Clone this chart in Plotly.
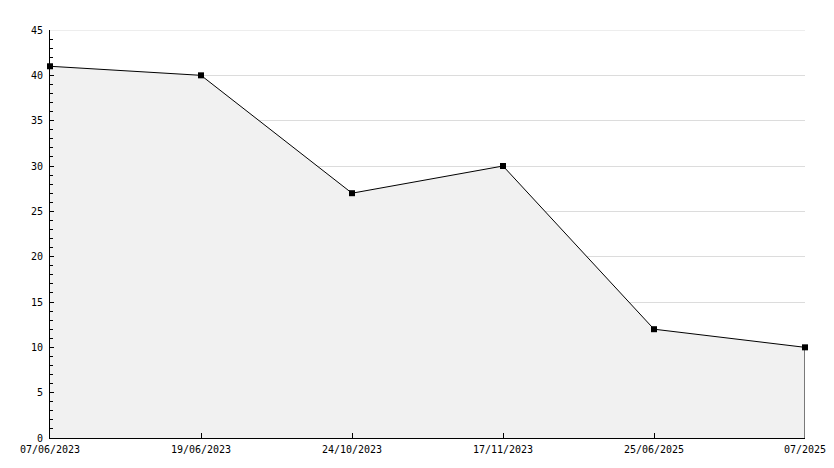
import plotly.graph_objects as go

categories = ["07/06/2023", "19/06/2023", "24/10/2023", "17/11/2023", "25/06/2025", "07/2025"]
values = [41, 40, 27, 30, 12, 10]
y_ticks = [0, 5, 10, 15, 20, 25, 30, 35, 40, 45]

FONT = dict(family="DejaVu Sans Mono", size=10, color="#000000")

fig = go.Figure()
fig.add_trace(go.Scatter(
    x=categories, y=values,
    mode="lines",
    fill="tozeroy",
    fillcolor="#f1f1f1",
    line=dict(color="#000000", width=1),
    cliponaxis=False,
    showlegend=False,
    hoverinfo="skip",
))
# right closing edge of the filled area
fig.add_trace(go.Scatter(
    x=[categories[-1], categories[-1]], y=[0, values[-1]],
    mode="lines",
    line=dict(color="#000000", width=1),
    cliponaxis=False,
    showlegend=False,
    hoverinfo="skip",
))
fig.add_trace(go.Scatter(
    x=categories, y=values,
    mode="markers",
    marker=dict(symbol="square", size=6, color="#000000"),
    cliponaxis=False,
    showlegend=False,
    hoverinfo="x+y",
))

# top gridline (at the plot edge)
fig.add_shape(type="line", xref="paper", x0=0, x1=1, yref="y",
              y0=y_ticks[-1], y1=y_ticks[-1],
              line=dict(color="#dcdcdc", width=1), layer="below")

# page body has an 8px default margin, so margins are compensated
fig.update_layout(
    width=834, height=468,
    margin=dict(l=42, r=37, t=22, b=38, autoexpand=False),
    paper_bgcolor="#ffffff",
    plot_bgcolor="#ffffff",
    font=FONT,
)
fig.update_xaxes(
    type="category",
    range=[0, len(categories) - 1],
    automargin=False,
    showgrid=False,
    showline=True, linecolor="#000000", linewidth=1,
    ticks="inside", ticklen=5, tickcolor="#000000",
    tickfont=FONT,
    ticklabelstandoff=2,
    zeroline=False,
)
fig.update_yaxes(
    range=[0, 45],
    automargin=False,
    tickvals=y_ticks,
    showgrid=True, gridcolor="#dcdcdc", gridwidth=1,
    showline=True, linecolor="#000000", linewidth=1,
    ticks="inside", ticklen=4, tickcolor="#000000",
    minor=dict(ticks="inside", dtick=1, ticklen=3, tickcolor="#000000", showgrid=False),
    tickfont=FONT,
    ticklabelstandoff=4,
    zeroline=False,
)

fig.write_html("out.html")
